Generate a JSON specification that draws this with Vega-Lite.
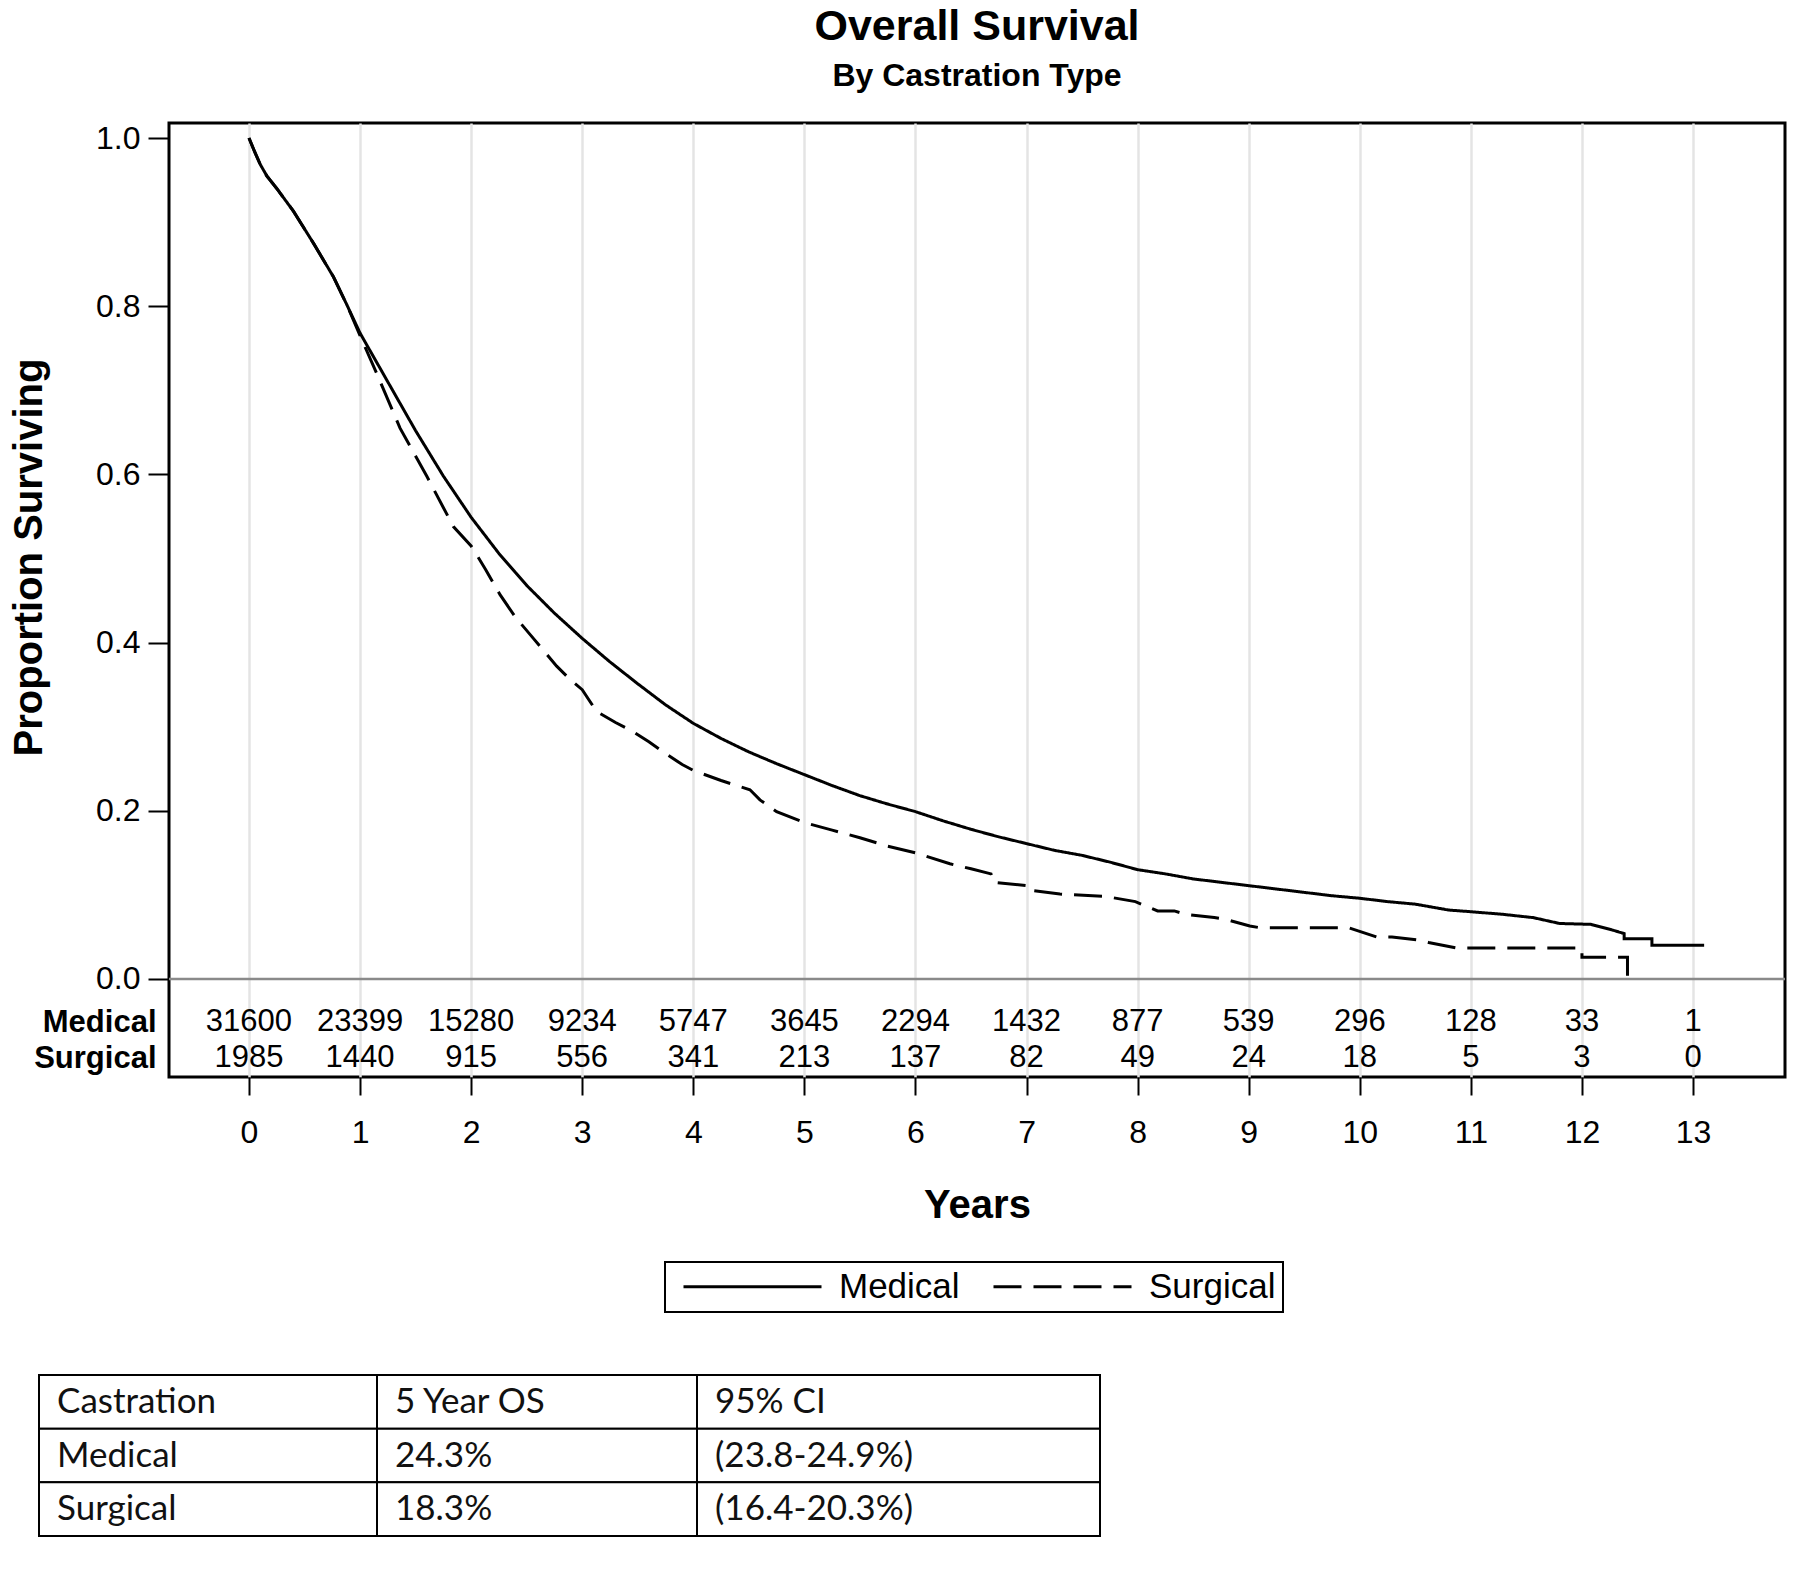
{
  "$schema": "https://vega.github.io/schema/vega-lite/v6.json",
  "width": 1616,
  "height": 954,
  "autosize": {"type": "none"},
  "padding": {"left": 169, "top": 123, "right": 15, "bottom": 509},
  "background": "white",
  "title": {
    "text": "Overall Survival",
    "subtitle": "By Castration Type",
    "anchor": "middle",
    "font": "Liberation Sans, Arial, sans-serif",
    "fontSize": 43,
    "fontWeight": "bold",
    "color": "black",
    "subtitleFont": "Liberation Sans, Arial, sans-serif",
    "subtitleFontSize": 32,
    "subtitleFontWeight": "bold",
    "subtitleColor": "black",
    "subtitlePadding": 12,
    "offset": 30
  },
  "datasets": {
    "km": [
      {"group": "Medical", "t": 0, "s": 1.0},
      {"group": "Medical", "t": 0.05, "s": 0.984},
      {"group": "Medical", "t": 0.1, "s": 0.969},
      {"group": "Medical", "t": 0.16, "s": 0.955},
      {"group": "Medical", "t": 0.25, "s": 0.94},
      {"group": "Medical", "t": 0.4, "s": 0.913},
      {"group": "Medical", "t": 0.58, "s": 0.875},
      {"group": "Medical", "t": 0.76, "s": 0.835},
      {"group": "Medical", "t": 0.88, "s": 0.802},
      {"group": "Medical", "t": 1.0, "s": 0.768},
      {"group": "Medical", "t": 1.25, "s": 0.71},
      {"group": "Medical", "t": 1.5, "s": 0.652},
      {"group": "Medical", "t": 1.75, "s": 0.598},
      {"group": "Medical", "t": 2.0, "s": 0.549},
      {"group": "Medical", "t": 2.25, "s": 0.506},
      {"group": "Medical", "t": 2.5, "s": 0.468},
      {"group": "Medical", "t": 2.75, "s": 0.435},
      {"group": "Medical", "t": 3.0, "s": 0.405},
      {"group": "Medical", "t": 3.25, "s": 0.377},
      {"group": "Medical", "t": 3.5, "s": 0.351},
      {"group": "Medical", "t": 3.75, "s": 0.326},
      {"group": "Medical", "t": 4.0, "s": 0.304},
      {"group": "Medical", "t": 4.25, "s": 0.286},
      {"group": "Medical", "t": 4.5, "s": 0.27},
      {"group": "Medical", "t": 4.75, "s": 0.256},
      {"group": "Medical", "t": 5.0, "s": 0.243},
      {"group": "Medical", "t": 5.25, "s": 0.23},
      {"group": "Medical", "t": 5.5, "s": 0.218},
      {"group": "Medical", "t": 5.75, "s": 0.208},
      {"group": "Medical", "t": 6.0, "s": 0.199},
      {"group": "Medical", "t": 6.25, "s": 0.188},
      {"group": "Medical", "t": 6.5, "s": 0.178},
      {"group": "Medical", "t": 6.75, "s": 0.169},
      {"group": "Medical", "t": 7.0, "s": 0.161},
      {"group": "Medical", "t": 7.25, "s": 0.153},
      {"group": "Medical", "t": 7.5, "s": 0.147},
      {"group": "Medical", "t": 7.75, "s": 0.139},
      {"group": "Medical", "t": 8.0, "s": 0.13},
      {"group": "Medical", "t": 8.25, "s": 0.125},
      {"group": "Medical", "t": 8.5, "s": 0.119},
      {"group": "Medical", "t": 8.75, "s": 0.115},
      {"group": "Medical", "t": 9.0, "s": 0.111},
      {"group": "Medical", "t": 9.25, "s": 0.107},
      {"group": "Medical", "t": 9.5, "s": 0.103},
      {"group": "Medical", "t": 9.75, "s": 0.099},
      {"group": "Medical", "t": 10.0, "s": 0.096},
      {"group": "Medical", "t": 10.25, "s": 0.092},
      {"group": "Medical", "t": 10.5, "s": 0.089},
      {"group": "Medical", "t": 10.8, "s": 0.082},
      {"group": "Medical", "t": 11.0, "s": 0.08},
      {"group": "Medical", "t": 11.28, "s": 0.077},
      {"group": "Medical", "t": 11.56, "s": 0.073},
      {"group": "Medical", "t": 11.8, "s": 0.066},
      {"group": "Medical", "t": 12.08, "s": 0.065},
      {"group": "Medical", "t": 12.28, "s": 0.058},
      {"group": "Medical", "t": 12.38, "s": 0.054},
      {"group": "Medical", "t": 12.38, "s": 0.048},
      {"group": "Medical", "t": 12.63, "s": 0.048},
      {"group": "Medical", "t": 12.63, "s": 0.04},
      {"group": "Medical", "t": 13.1, "s": 0.04},
      {"group": "Surgical", "t": 0, "s": 1.0},
      {"group": "Surgical", "t": 0.05, "s": 0.984},
      {"group": "Surgical", "t": 0.1, "s": 0.969},
      {"group": "Surgical", "t": 0.16, "s": 0.955},
      {"group": "Surgical", "t": 0.25, "s": 0.94},
      {"group": "Surgical", "t": 0.4, "s": 0.913},
      {"group": "Surgical", "t": 0.58, "s": 0.875},
      {"group": "Surgical", "t": 0.76, "s": 0.835},
      {"group": "Surgical", "t": 0.88, "s": 0.802},
      {"group": "Surgical", "t": 1.0, "s": 0.765},
      {"group": "Surgical", "t": 1.15, "s": 0.72},
      {"group": "Surgical", "t": 1.36, "s": 0.655},
      {"group": "Surgical", "t": 1.6, "s": 0.598},
      {"group": "Surgical", "t": 1.84, "s": 0.538},
      {"group": "Surgical", "t": 2.0, "s": 0.515},
      {"group": "Surgical", "t": 2.13, "s": 0.487},
      {"group": "Surgical", "t": 2.26, "s": 0.457},
      {"group": "Surgical", "t": 2.4, "s": 0.43},
      {"group": "Surgical", "t": 2.56, "s": 0.405},
      {"group": "Surgical", "t": 2.77, "s": 0.372},
      {"group": "Surgical", "t": 2.9, "s": 0.355},
      {"group": "Surgical", "t": 3.0, "s": 0.344},
      {"group": "Surgical", "t": 3.07, "s": 0.33},
      {"group": "Surgical", "t": 3.13, "s": 0.318},
      {"group": "Surgical", "t": 3.3, "s": 0.305},
      {"group": "Surgical", "t": 3.46, "s": 0.294},
      {"group": "Surgical", "t": 3.6, "s": 0.282},
      {"group": "Surgical", "t": 3.75, "s": 0.268},
      {"group": "Surgical", "t": 3.9, "s": 0.255},
      {"group": "Surgical", "t": 4.0, "s": 0.248},
      {"group": "Surgical", "t": 4.25, "s": 0.236},
      {"group": "Surgical", "t": 4.51, "s": 0.225},
      {"group": "Surgical", "t": 4.6, "s": 0.213},
      {"group": "Surgical", "t": 4.75, "s": 0.199},
      {"group": "Surgical", "t": 5.0, "s": 0.186},
      {"group": "Surgical", "t": 5.25, "s": 0.177},
      {"group": "Surgical", "t": 5.5, "s": 0.168},
      {"group": "Surgical", "t": 5.75, "s": 0.158},
      {"group": "Surgical", "t": 6.0, "s": 0.15},
      {"group": "Surgical", "t": 6.31, "s": 0.137},
      {"group": "Surgical", "t": 6.5, "s": 0.131},
      {"group": "Surgical", "t": 6.68, "s": 0.125},
      {"group": "Surgical", "t": 6.7, "s": 0.115},
      {"group": "Surgical", "t": 7.0, "s": 0.111},
      {"group": "Surgical", "t": 7.01, "s": 0.106},
      {"group": "Surgical", "t": 7.3, "s": 0.101},
      {"group": "Surgical", "t": 7.72, "s": 0.098},
      {"group": "Surgical", "t": 7.98, "s": 0.092},
      {"group": "Surgical", "t": 8.07, "s": 0.087},
      {"group": "Surgical", "t": 8.18, "s": 0.081},
      {"group": "Surgical", "t": 8.33, "s": 0.081},
      {"group": "Surgical", "t": 8.43, "s": 0.077},
      {"group": "Surgical", "t": 8.69, "s": 0.073},
      {"group": "Surgical", "t": 8.79, "s": 0.071},
      {"group": "Surgical", "t": 9.01, "s": 0.063},
      {"group": "Surgical", "t": 9.1, "s": 0.061},
      {"group": "Surgical", "t": 9.9, "s": 0.061},
      {"group": "Surgical", "t": 10.15, "s": 0.05},
      {"group": "Surgical", "t": 10.29, "s": 0.05},
      {"group": "Surgical", "t": 10.55, "s": 0.046},
      {"group": "Surgical", "t": 10.63, "s": 0.043},
      {"group": "Surgical", "t": 10.87, "s": 0.037},
      {"group": "Surgical", "t": 12.0, "s": 0.037},
      {"group": "Surgical", "t": 12.0, "s": 0.026},
      {"group": "Surgical", "t": 12.41, "s": 0.026},
      {"group": "Surgical", "t": 12.41, "s": 0.0}
    ],
    "atrisk": [
      {"group": "Medical", "t": 0, "n": 31600},
      {"group": "Medical", "t": 1, "n": 23399},
      {"group": "Medical", "t": 2, "n": 15280},
      {"group": "Medical", "t": 3, "n": 9234},
      {"group": "Medical", "t": 4, "n": 5747},
      {"group": "Medical", "t": 5, "n": 3645},
      {"group": "Medical", "t": 6, "n": 2294},
      {"group": "Medical", "t": 7, "n": 1432},
      {"group": "Medical", "t": 8, "n": 877},
      {"group": "Medical", "t": 9, "n": 539},
      {"group": "Medical", "t": 10, "n": 296},
      {"group": "Medical", "t": 11, "n": 128},
      {"group": "Medical", "t": 12, "n": 33},
      {"group": "Medical", "t": 13, "n": 1},
      {"group": "Surgical", "t": 0, "n": 1985},
      {"group": "Surgical", "t": 1, "n": 1440},
      {"group": "Surgical", "t": 2, "n": 915},
      {"group": "Surgical", "t": 3, "n": 556},
      {"group": "Surgical", "t": 4, "n": 341},
      {"group": "Surgical", "t": 5, "n": 213},
      {"group": "Surgical", "t": 6, "n": 137},
      {"group": "Surgical", "t": 7, "n": 82},
      {"group": "Surgical", "t": 8, "n": 49},
      {"group": "Surgical", "t": 9, "n": 24},
      {"group": "Surgical", "t": 10, "n": 18},
      {"group": "Surgical", "t": 11, "n": 5},
      {"group": "Surgical", "t": 12, "n": 3},
      {"group": "Surgical", "t": 13, "n": 0}
    ],
    "table": [
      {"row": "Castration", "c": 0, "ce": 1, "text": "Castration"},
      {"row": "Castration", "c": 1, "ce": 2, "text": "5 Year OS"},
      {"row": "Castration", "c": 2, "ce": 3, "text": "95% CI"},
      {"row": "Medical", "c": 0, "ce": 1, "text": "Medical"},
      {"row": "Medical", "c": 1, "ce": 2, "text": "24.3%"},
      {"row": "Medical", "c": 2, "ce": 3, "text": "(23.8-24.9%)"},
      {"row": "Surgical", "c": 0, "ce": 1, "text": "Surgical"},
      {"row": "Surgical", "c": 1, "ce": 2, "text": "18.3%"},
      {"row": "Surgical", "c": 2, "ce": 3, "text": "(16.4-20.3%)"}
    ]
  },
  "layer": [
    {
      "layer": [
        {
          "layer": [
            {
              "data": {"values": [{"line": "zero"}]},
              "mark": {"type": "rule", "color": "#8a8a8a", "strokeWidth": 2.5},
              "encoding": {"y": {"datum": 0}}
            },
            {
              "data": {"name": "km"},
              "mark": {"type": "line", "color": "black", "strokeWidth": 3, "interpolate": "linear"},
              "encoding": {
                "x": {
                  "field": "t", "type": "quantitative", "title": "Years",
                  "scale": {"domain": [-0.72, 13.828], "nice": false, "zero": false},
                  "axis": {
                    "values": [0, 1, 2, 3, 4, 5, 6, 7, 8, 9, 10, 11, 12, 13],
                    "format": "d", "grid": true, "gridColor": "#e4e4e4", "gridWidth": 2.5,
                    "domain": false, "tickSize": 18, "tickWidth": 2, "tickColor": "black",
                    "labelFontSize": 32, "labelPadding": 22, "labelColor": "black",
                    "labelFont": "Liberation Sans, Arial, sans-serif",
                    "titleFont": "Liberation Sans, Arial, sans-serif",
                    "titleFontSize": 40, "titleFontWeight": "bold", "titleColor": "black",
                    "titleY": 128, "titleBaseline": "middle"
                  }
                },
                "y": {
                  "field": "s", "type": "quantitative", "title": "Proportion Surviving",
                  "scale": {"domain": [-0.11653, 1.01784], "nice": false, "zero": false},
                  "axis": {
                    "orient": "left",
                    "values": [0, 0.2, 0.4, 0.6, 0.8, 1.0],
                    "format": ".1f", "grid": false, "domain": false,
                    "tickSize": 21, "tickWidth": 2, "tickColor": "black",
                    "labelFontSize": 32, "labelPadding": 8, "labelColor": "black",
                    "labelFont": "Liberation Sans, Arial, sans-serif",
                    "titleFont": "Liberation Sans, Arial, sans-serif",
                    "titleFontSize": 40, "titleFontWeight": "bold", "titleColor": "black",
                    "titleX": -140, "titleY": 434, "titleAngle": 270,
                    "titleBaseline": "middle", "titleAlign": "center"
                  }
                },
                "strokeDash": {
                  "field": "group", "type": "nominal",
                  "scale": {"domain": ["Medical", "Surgical"], "range": [[1, 0], [28, 12]]},
                  "legend": {
                    "orient": "none", "legendX": 496, "legendY": 1139,
                    "direction": "horizontal", "title": null,
                    "labelFontSize": 35, "labelColor": "black",
                    "labelFont": "Liberation Sans, Arial, sans-serif",
                    "symbolType": "M-8,0H8", "symbolSize": 297.6, "symbolStrokeWidth": 3,
                    "symbolStrokeColor": "black",
                    "strokeColor": "black", "padding": 7,
                    "symbolOffset": 63, "labelOffset": 69, "columnPadding": 22
                  }
                },
                "order": {"value": null}
              }
            }
          ]
        },
        {
          "data": {"name": "atrisk"},
          "mark": {
            "type": "text", "align": "center", "baseline": "middle", "fontSize": 31, "color": "black",
            "font": "Liberation Sans, Arial, sans-serif"
          },
          "encoding": {
            "x": {
              "field": "t", "type": "quantitative", "title": "Years",
              "scale": {"domain": [-0.72, 13.828], "nice": false, "zero": false}
            },
            "y": {
              "field": "group", "type": "nominal",
              "scale": {"type": "point", "domain": ["Medical", "Surgical"], "range": [899, 935], "padding": 0},
              "axis": {
                "orient": "left", "title": null, "ticks": false, "domain": false, "grid": false,
                "labelFontWeight": "bold", "labelFontSize": 31, "labelPadding": 13, "labelColor": "black",
                "labelFont": "Liberation Sans, Arial, sans-serif"
              }
            },
            "text": {"field": "n", "type": "quantitative", "format": "d"}
          }
        }
      ],
      "resolve": {"scale": {"y": "independent"}}
    },
    {
      "data": {"name": "table"},
      "layer": [
        {
          "mark": {"type": "rect", "fill": "white", "stroke": "black", "strokeWidth": 2},
          "encoding": {
            "x": {"field": "c", "type": "quantitative", "axis": null,
                  "scale": {"domain": [0, 1, 2, 3], "range": [-130, 208, 528, 931], "nice": false, "zero": false}},
            "x2": {"field": "ce"},
            "y": {"field": "row", "type": "nominal", "axis": null,
                  "scale": {"type": "band", "domain": ["Castration", "Medical", "Surgical"], "range": [1252, 1413], "paddingInner": 0, "paddingOuter": 0}}
          }
        },
        {
          "mark": {"type": "text", "align": "left", "baseline": "middle", "dx": 18, "fontSize": 35, "font": "Lato", "color": "#111111"},
          "encoding": {
            "x": {"field": "c", "type": "quantitative", "axis": null,
                  "scale": {"domain": [0, 1, 2, 3], "range": [-130, 208, 528, 931], "nice": false, "zero": false}},
            "y": {"field": "row", "type": "nominal", "axis": null,
                  "scale": {"type": "band", "domain": ["Castration", "Medical", "Surgical"], "range": [1252, 1413], "paddingInner": 0, "paddingOuter": 0}},
            "text": {"field": "text", "type": "nominal"}
          }
        }
      ]
    }
  ],
  "resolve": {"scale": {"x": "independent", "y": "independent"}},
  "config": {
    "font": "Liberation Sans, Arial, sans-serif",
    "view": {"stroke": "black", "strokeWidth": 3},
    "legend": {"strokeWidth": 2}
  }
}
